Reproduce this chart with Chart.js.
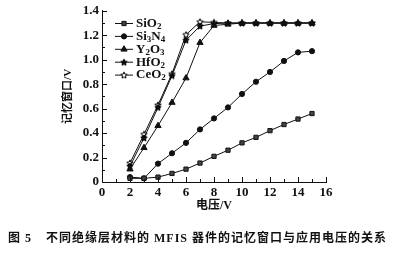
<!DOCTYPE html>
<html><head><meta charset="utf-8">
<script src="https://cdn.jsdelivr.net/npm/chart.js@4"></script>
<style>
html,body{margin:0;padding:0;background:#fff;}
#wrap{position:relative;width:400px;height:254px;overflow:hidden;background:#fff;}
#c{position:absolute;left:0;top:0;}
#cap{position:absolute;left:8px;top:228px;font-family:"Liberation Serif","Noto Sans CJK SC";font-weight:bold;font-size:12px;white-space:nowrap;color:#111;letter-spacing:1px;}
</style></head><body>
<div id="wrap"><canvas id="c" width="400" height="254"></canvas>
<div id="cap">图 5<span style="display:inline-block;width:14px"></span>不同绝缘层材料的 MFIS 器件的记忆窗口与应用电压的关系</div></div>
<script>
// ---- data ----
const voltages = [2, 3, 4, 5, 6, 7, 8, 9, 10, 11, 12, 13, 14, 15];
const seriesNames = ['SiO₂', 'Si₃N₄', 'Y₂O₃', 'HfO₂', 'CeO₂'];
const sio2  = [0.03, 0.03, 0.04, 0.07, 0.105, 0.155, 0.21, 0.26, 0.32, 0.365, 0.42, 0.47, 0.515, 0.56];
const si3n4 = [0.04, 0.03, 0.15, 0.235, 0.32, 0.43, 0.52, 0.61, 0.72, 0.82, 0.90, 0.99, 1.06, 1.07];
const y2o3  = [0.105, 0.28, 0.46, 0.65, 0.85, 1.14, 1.28, 1.29, 1.30, 1.30, 1.30, 1.30, 1.30, 1.30];
const hfo2  = [0.13, 0.36, 0.61, 0.87, 1.16, 1.275, 1.295, 1.30, 1.30, 1.30, 1.30, 1.30, 1.30, 1.30];
const ceo2  = [0.155, 0.39, 0.63, 0.885, 1.205, 1.31, 1.305, 1.30, 1.30, 1.30, 1.30, 1.30, 1.30, 1.30];
const xTickValues = [0, 2, 4, 6, 8, 10, 12, 14, 16];
const yTickValues = [0, 0.2, 0.4, 0.6, 0.8, 1.0, 1.2, 1.4];
const yTickLabels = ['0', '0.2', '0.4', '0.6', '0.8', '1.0', '1.2', '1.4'];
const xTitle = '电压/V';
const yTitle = '记忆窗口/V';

// ---- marker images ----
function starCanvas(size, fill) {
  const c = document.createElement('canvas');
  c.width = c.height = size;
  const g = c.getContext('2d');
  const cx = size / 2, cy = size / 2 + 0.3, R = size / 2 - 0.6, r = R * 0.45;
  g.beginPath();
  for (let k = 0; k < 10; k++) {
    const ang = -Math.PI / 2 + k * Math.PI / 5;
    const rad = k % 2 ? r : R;
    g.lineTo(cx + rad * Math.cos(ang), cy + rad * Math.sin(ang));
  }
  g.closePath();
  g.fillStyle = fill; g.fill();
  g.strokeStyle = '#000'; g.lineWidth = 1; g.stroke();
  return c;
}
const starFilled = starCanvas(8, '#111');
const starOpen = starCanvas(8, '#fff');

const styles = [
  {pointStyle: 'rect', radius: 3, bg: '#444'},
  {pointStyle: 'circle', radius: 2.6, bg: '#111'},
  {pointStyle: 'triangle', radius: 3.6, bg: '#111'},
  {pointStyle: starFilled, radius: 4, bg: '#111'},
  {pointStyle: starOpen, radius: 4, bg: '#fff'}
];
const seriesValues = [sio2, si3n4, y2o3, hfo2, ceo2];

const datasets = seriesValues.map((vals, i) => ({
  label: seriesNames[i],
  data: voltages.map((v, j) => ({x: v, y: vals[j]})),
  borderColor: '#111',
  borderWidth: 1,
  tension: 0,
  pointStyle: styles[i].pointStyle,
  pointRadius: styles[i].radius,
  pointBackgroundColor: styles[i].bg,
  pointBorderColor: '#111',
  pointBorderWidth: 1,
  fill: false
}));

function drawMarker(ctx, st, x, y) {
  ctx.save();
  ctx.fillStyle = st.bg; ctx.strokeStyle = '#111'; ctx.lineWidth = 1;
  const r = st.radius;
  if (typeof st.pointStyle !== 'string') {
    const im = st.pointStyle;
    ctx.drawImage(im, x - im.width / 2, y - im.height / 2);
  } else if (st.pointStyle === 'rect') {
    const s = r * Math.SQRT1_2;
    ctx.beginPath(); ctx.rect(x - s, y - s, 2 * s, 2 * s); ctx.fill(); ctx.stroke();
  } else if (st.pointStyle === 'circle') {
    ctx.beginPath(); ctx.arc(x, y, r, 0, Math.PI * 2); ctx.fill(); ctx.stroke();
  } else if (st.pointStyle === 'triangle') {
    ctx.beginPath();
    ctx.moveTo(x, y - r);
    ctx.lineTo(x + r * 0.866, y + r * 0.5);
    ctx.lineTo(x - r * 0.866, y + r * 0.5);
    ctx.closePath(); ctx.fill(); ctx.stroke();
  }
  ctx.restore();
}

function drawChem(ctx, s, x, y) {
  const subs = {'₀': '0', '₁': '1', '₂': '2', '₃': '3', '₄': '4', '₅': '5'};
  for (const ch of s) {
    if (subs[ch]) {
      ctx.font = 'bold 9px "Liberation Serif"';
      ctx.fillText(subs[ch], x, y + 3);
      x += ctx.measureText(subs[ch]).width;
    } else {
      ctx.font = 'bold 13px "Liberation Serif"';
      ctx.fillText(ch, x, y);
      x += ctx.measureText(ch).width;
    }
  }
}

const legendPlugin = {
  id: 'innerLegend',
  afterDraw(chart) {
    const {ctx, chartArea: a} = chart;
    ctx.save();
    ctx.textBaseline = 'middle';
    ctx.fillStyle = '#111';
    seriesNames.forEach((name, i) => {
      const yy = a.top + 12.7 + i * 12.9;
      const x0 = a.left + 13, x1 = a.left + 31;
      ctx.strokeStyle = '#111'; ctx.lineWidth = 1;
      ctx.beginPath(); ctx.moveTo(x0, yy); ctx.lineTo(x1, yy); ctx.stroke();
      drawMarker(ctx, styles[i], (x0 + x1) / 2, yy);
      ctx.fillStyle = '#111';
      drawChem(ctx, name, a.left + 34, yy);
    });
    ctx.restore();
  }
};

const tickPlugin = {
  id: 'inwardTicks',
  afterDraw(chart) {
    const {ctx, chartArea: a, scales: {x, y}} = chart;
    ctx.save();
    ctx.strokeStyle = '#111'; ctx.lineWidth = 1;
    ctx.beginPath();
    xTickValues.forEach((v, i) => {
      const px = Math.round(x.getPixelForValue(v)) + 0.5;
      ctx.moveTo(px, a.bottom); ctx.lineTo(px, a.bottom - 5);
      if (i < xTickValues.length - 1) {
        const pm = Math.round(x.getPixelForValue((v + xTickValues[i + 1]) / 2)) + 0.5;
        ctx.moveTo(pm, a.bottom); ctx.lineTo(pm, a.bottom - 3);
      }
    });
    yTickValues.forEach((v, i) => {
      const py = Math.round(y.getPixelForValue(v)) + 0.5;
      ctx.moveTo(a.left, py); ctx.lineTo(a.left + 5, py);
      if (i < yTickValues.length - 1) {
        const pm = Math.round(y.getPixelForValue((v + yTickValues[i + 1]) / 2)) + 0.5;
        ctx.moveTo(a.left, pm); ctx.lineTo(a.left + 3, pm);
      }
    });
    ctx.stroke();
    ctx.restore();
  }
};

new Chart(document.getElementById('c'), {
  type: 'line',
  data: {datasets},
  options: {
    responsive: false,
    animation: false,
    devicePixelRatio: 1,
    layout: {padding: {left: 0, right: 74, top: 10, bottom: 40}},
    plugins: {legend: {display: false}, tooltip: {enabled: false}},
    scales: {
      x: {
        type: 'linear', min: 0, max: 16,
        afterBuildTicks: s => { s.ticks = xTickValues.map(v => ({value: v})); },
        afterFit: s => { s.height = 32; },
        grid: {display: false, drawTicks: false},
        border: {display: true, color: '#111', width: 1},
        ticks: {color: '#111', padding: 3, maxRotation: 0, autoSkip: false,
          font: {family: '"Liberation Serif"', size: 13, weight: 'bold'}},
        title: {display: true, text: xTitle, color: '#111', padding: {top: 0, bottom: 1},
          font: {family: '"Liberation Serif", "Noto Sans CJK SC"', size: 12, weight: 'bold'}}
      },
      y: {
        type: 'linear', min: 0, max: 1.4,
        afterBuildTicks: s => { s.ticks = yTickValues.map(v => ({value: v})); },
        afterFit: s => { s.width = 102; },
        grid: {display: false, drawTicks: false},
        border: {display: true, color: '#111', width: 1},
        ticks: {color: '#111', padding: 3, autoSkip: false,
          callback: (v, i) => yTickLabels[i],
          font: {family: '"Liberation Serif"', size: 13, weight: 'bold'}},
        title: {display: true, text: yTitle, color: '#111', padding: {top: 62, bottom: 0},
          font: {family: '"Liberation Serif", "Noto Sans CJK SC"', size: 11, weight: 'bold'}}
      }
    }
  },
  plugins: [tickPlugin, legendPlugin]
});
</script>
</body></html>
